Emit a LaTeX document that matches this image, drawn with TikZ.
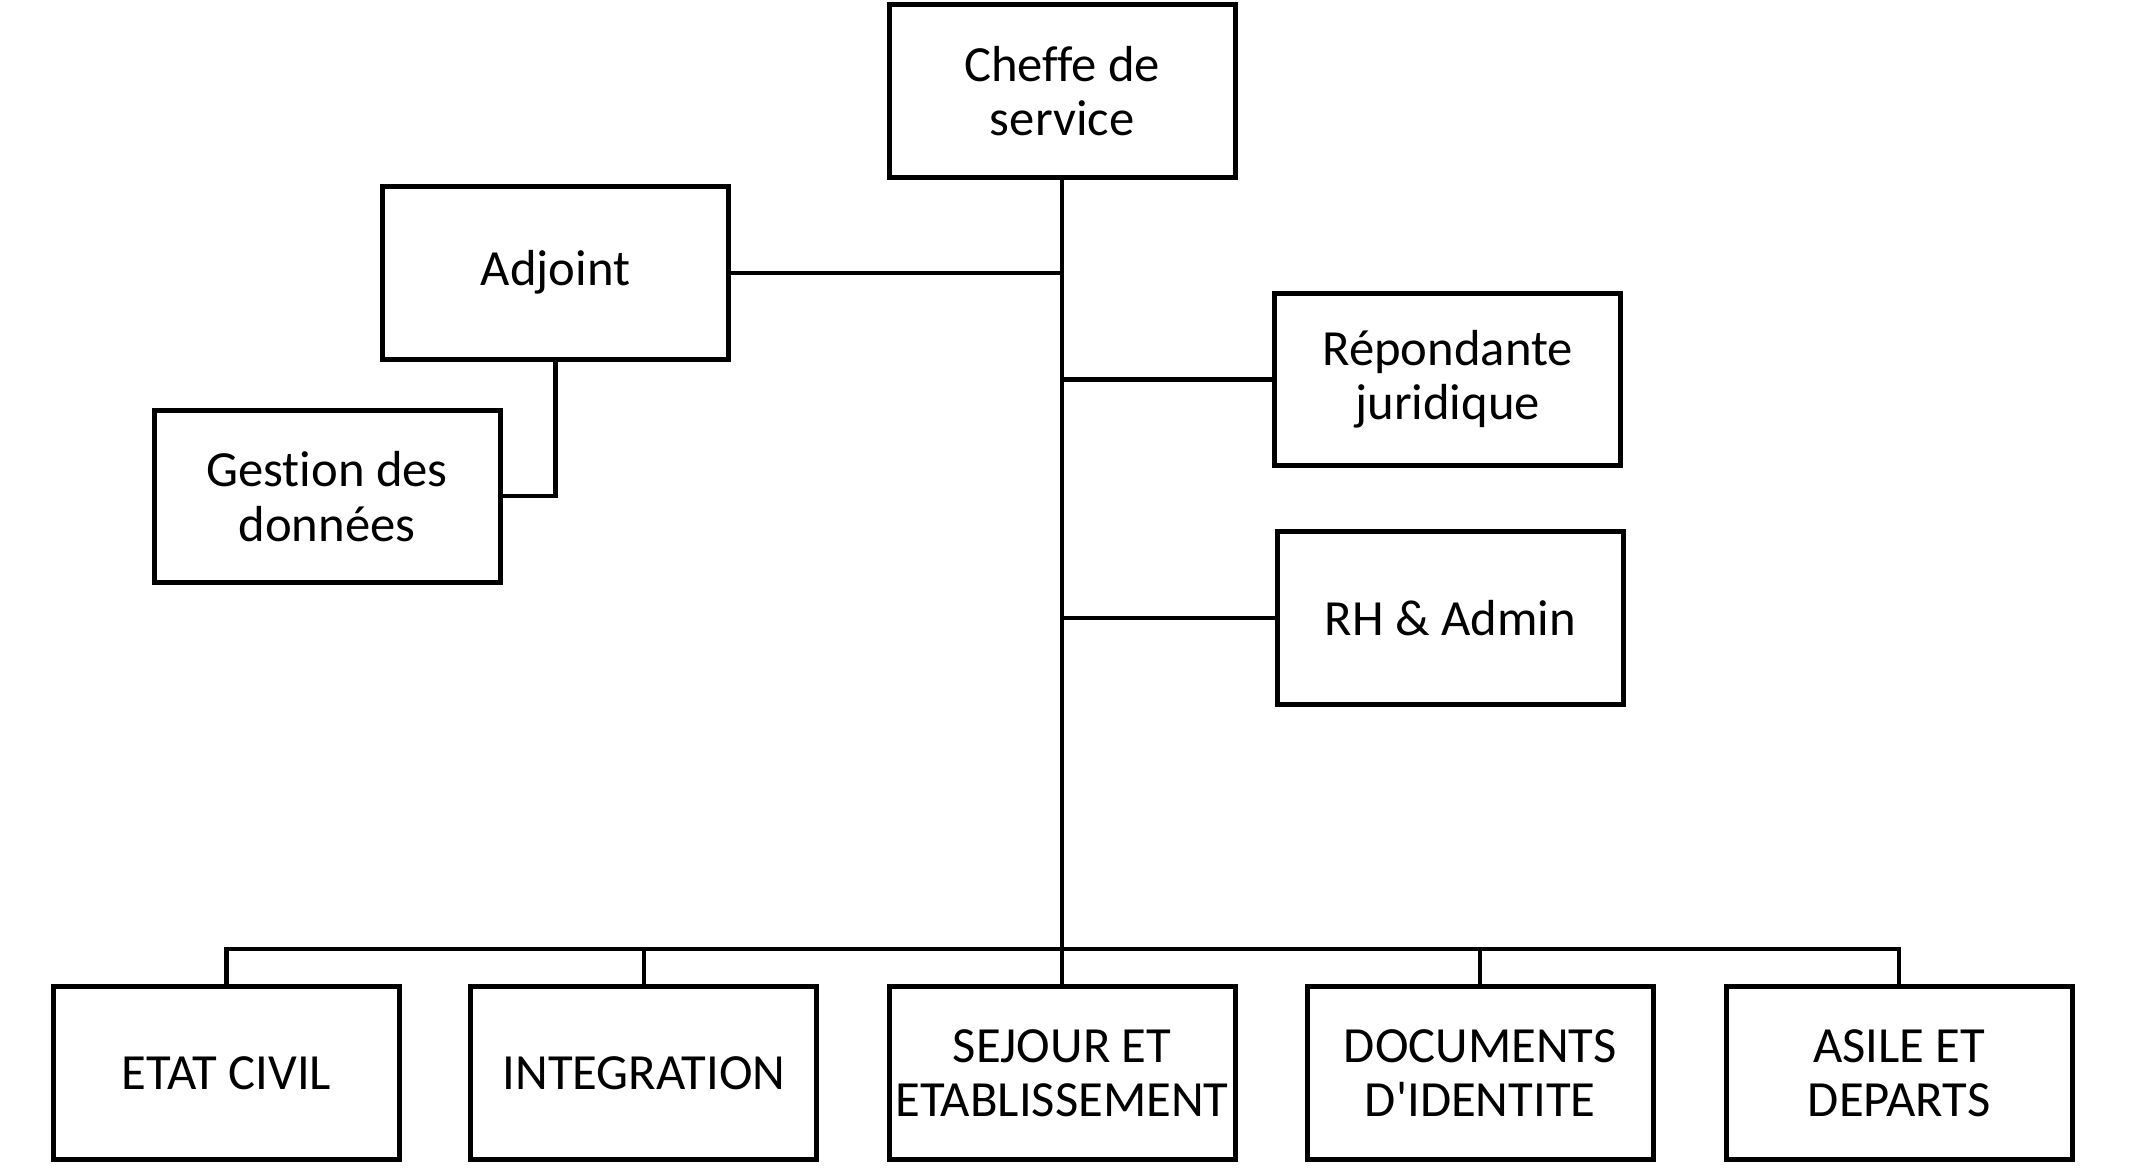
\documentclass[tikz,border=0pt]{standalone}
\usepackage{fontspec}
\setmainfont{Carlito}[Ligatures={NoCommon}]

\begin{document}
\begin{tikzpicture}[x=0.25mm, y=-0.25mm,
    unit/.style={draw, line width=2.6pt, minimum width=63.6mm, minimum height=31.75mm,
        inner sep=0pt, align=center, font=\fontsize{26.5}{28.5}\selectfont},
    link/.style={line width=2.2pt}]
            \useasboundingbox (0,0) rectangle (1567,859);

            \node[unit] (chef) at (781,67) {Cheffe de\\service};
            \node[unit] (adj) at (408.5,200.5) {Adjoint};
            \node[unit] (gest) at (240.5,365) {Gestion des\\données};
            \node[unit] (jur) at (1064.5,279) {Répondante\\juridique};
            \node[unit] (rh) at (1066.5,454.5) {RH \& Admin};

            \node[unit] (ec) at (166.5,789) {ETAT CIVIL};
            \node[unit] (int) at (473.5,789) {INTEGRATION};
            \node[unit] (sej) at (781,789) {SEJOUR ET\\ETABLISSEMENT};
            \node[unit] (doc) at (1088.5,789) {DOCUMENTS\\D\textquotesingle IDENTITE};
            \node[unit] (asile) at (1396.5,789) {ASILE ET\\DEPARTS};

            \coordinate (bus) at (781,698);

            \draw[link] (chef.south) -- (bus);
            \draw[link] (adj.east) -- (adj -| chef);
            \draw[link] (jur.west) -- (jur -| chef);
            \draw[link] (rh.west) -- (rh -| chef);
            \draw[link] (adj.south) |- (gest.east);
            \foreach \n in {ec,int,sej,doc,asile}
                \draw[link] (\n.north) |- (bus);
        \end{tikzpicture}
\end{document}
